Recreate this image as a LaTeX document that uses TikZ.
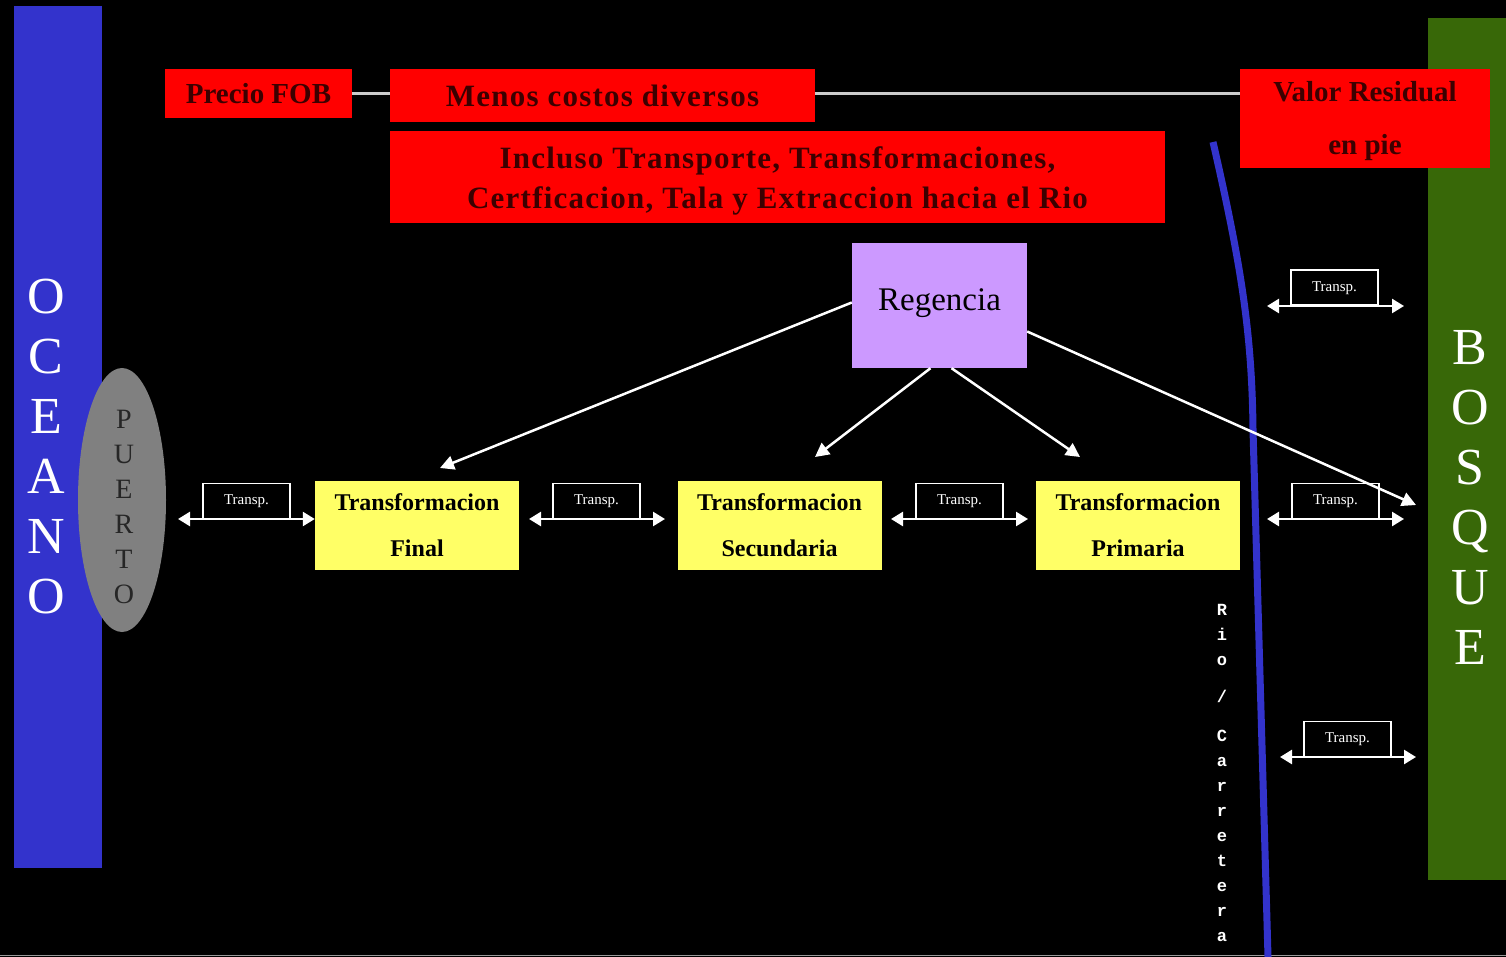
\documentclass[tikz,border=0pt]{standalone}
\usepackage{fontspec}
\setmainfont{Liberation Serif}
\newfontfamily\monofnt{Liberation Mono}
\newfontfamily\spacedserif[LetterSpace=4]{Liberation Serif}
\usetikzlibrary{arrows.meta,shapes.geometric}
\definecolor{oceanblue}{RGB}{51,51,204}
\definecolor{forest}{RGB}{56,104,8}
\definecolor{boxred}{RGB}{255,0,0}
\definecolor{redtext}{RGB}{60,0,0}
\definecolor{ylw}{RGB}{255,255,102}
\definecolor{lav}{RGB}{204,153,255}
\definecolor{portgray}{RGB}{128,128,128}
\tikzset{
  redbox/.style={fill=boxred, draw=none, inner sep=0pt, text=redtext, align=center},
  redtxt/.style={inner sep=0pt, text=redtext, align=center},
  ylwbox/.style={fill=ylw, draw=none, inner sep=0pt, text=black, align=center,
     minimum width=204pt, minimum height=89pt, font=\fontsize{24}{46}\selectfont\bfseries},
  transplbl/.style={draw=white, line width=1.5pt, text=white, minimum width=87pt, minimum height=35pt,
     inner sep=0pt, font=\fontsize{15}{17}\selectfont, anchor=south},
  dblarrow/.style={white, line width=2.5pt, {Triangle[length=12pt,width=14pt]}-{Triangle[length=12pt,width=14pt]}},
  diagarrow/.style={white, line width=2.5pt, -{Triangle[length=14pt,width=14pt]}},
  link/.style={draw=white!80!black, line width=2.5pt},
  bigletters/.style={text=white, align=center, inner sep=0pt},
}
\begin{document}
\begin{tikzpicture}[x=1pt,y=-1pt]
\useasboundingbox (0,0) rectangle (1506,957);
\fill[black] (0,0) rectangle (1506,957);
\draw[white!60!black, line width=1.5pt] (0,955.5) -- (1506,955.5);

% Ocean and forest bands
\node[fill=oceanblue, minimum width=88pt, minimum height=862pt, inner sep=0pt] (ocean) at (58,437) {};
\node[bigletters, font=\fontsize{52}{60}\selectfont] (oceanotxt) at (46,447) {O\\C\\E\\A\\N\\O};
\node[fill=forest, minimum width=78pt, minimum height=862pt, inner sep=0pt] (forest) at (1467,449) {};
\node[bigletters, font=\fontsize{52}{60}\selectfont] (bosquetxt) at (1470,497) {B\\O\\S\\Q\\U\\E};

% Port
\node[ellipse, fill=portgray, minimum width=88pt, minimum height=264pt, inner sep=0pt] (puerto) at (122,500) {};
\node[text=black!85, align=center, inner sep=0pt, font=\fontsize{28}{35}\selectfont] (puertotxt) at (124,507) {P\\U\\E\\R\\T\\O};

% Red boxes
\node[redbox, minimum width=187pt, minimum height=49pt, font=\fontsize{29}{30}\selectfont\bfseries] (fob) at (258.5,93.5) {Precio FOB};
\node[redbox, minimum width=425pt, minimum height=53pt, font=\spacedserif\fontsize{31}{30}\selectfont\bfseries] (menos) at (602.5,95.5) {Menos costos diversos};
\node[redbox, minimum width=775pt, minimum height=92pt] (incluso) at (777.5,177) {};
\node[redtxt, font=\spacedserif\fontsize{31}{40}\selectfont\bfseries] (inclusotxt) at (777.5,181) {Incluso Transporte, Transformaciones,\\Certficacion, Tala y Extraccion hacia el Rio};
\node[redbox, minimum width=250pt, minimum height=99pt] (valor) at (1365,118.5) {};
\node[redtxt, font=\fontsize{29}{53}\selectfont\bfseries] (valortxt) at (1365,121) {Valor Residual\\en pie};
\draw[link] (fob.east) -- (fob.east -| menos.west);
\draw[link] (fob.east -| menos.east) -- (fob.east -| valor.west);

% River / road
\draw[oceanblue, line width=7pt] (1213,142) .. controls (1240,260) and (1252,330) .. (1253,430) -- (1268,957);
\node[text=white, align=center, inner sep=0pt, font=\monofnt\bfseries\fontsize{17}{25}\selectfont] (rio) at (1222,773) {R\\i\\o\\[12pt]/\\[14pt]C\\a\\r\\r\\e\\t\\e\\r\\a};

% Regencia and transformation boxes
\node[fill=lav, minimum width=175pt, minimum height=125pt, inner sep=0pt, font=\fontsize{33}{34}\selectfont] (reg) at (939.5,305.5) {\raisebox{12pt}{Regencia}};
\node[ylwbox] (final) at (417,525.5) {Transformacion\\Final};
\node[ylwbox] (secu) at (779.5,525.5) {Transformacion\\Secundaria};
\node[ylwbox] (prim) at (1138,525.5) {Transformacion\\Primaria};

% Transport arrows
\coordinate (t1a) at (178,519);
\coordinate (t2a) at (529,519);
\coordinate (t2b) at (665,519);
\coordinate (t3a) at (891,519);
\coordinate (t3b) at (1028,519);
\coordinate (t4a) at (1267,519);
\coordinate (t4b) at (1404,519);
\coordinate (t5a) at (1267,306);
\coordinate (t5b) at (1404,306);
\coordinate (t6a) at (1280,757);
\coordinate (t6b) at (1416,757);

\draw[dblarrow] (t1a) -- (final.west |- t1a);
\node[transplbl] (l1) at (246.5,519) {Transp.};
\draw[dblarrow] (t2a) -- (t2b);
\node[transplbl] (l2) at (596.5,519) {Transp.};
\draw[dblarrow] (t3a) -- (t3b);
\node[transplbl] (l3) at (959.5,519) {Transp.};
\draw[dblarrow] (t4a) -- (t4b);
\node[transplbl] (l4) at (1335.5,519) {Transp.};
\draw[dblarrow] (t5a) -- (t5b);
\node[transplbl] (l5) at (1334.5,306) {Transp.};
\draw[dblarrow] (t6a) -- (t6b);
\node[transplbl] (l6) at (1347.5,757) {Transp.};

% Regencia arrows
\coordinate (e1) at (440,468);
\coordinate (e2) at (815,457);
\coordinate (e3) at (1080,457);
\coordinate (e4) at (1416,505);
\draw[diagarrow] ([yshift=3pt]reg.west) -- (e1);
\draw[diagarrow] ([xshift=-9pt]reg.south) -- (e2);
\draw[diagarrow] ([xshift=12pt]reg.south) -- (e3);
\draw[diagarrow] ([yshift=-26pt]reg.east) -- (e4);
\end{tikzpicture}
\end{document}
